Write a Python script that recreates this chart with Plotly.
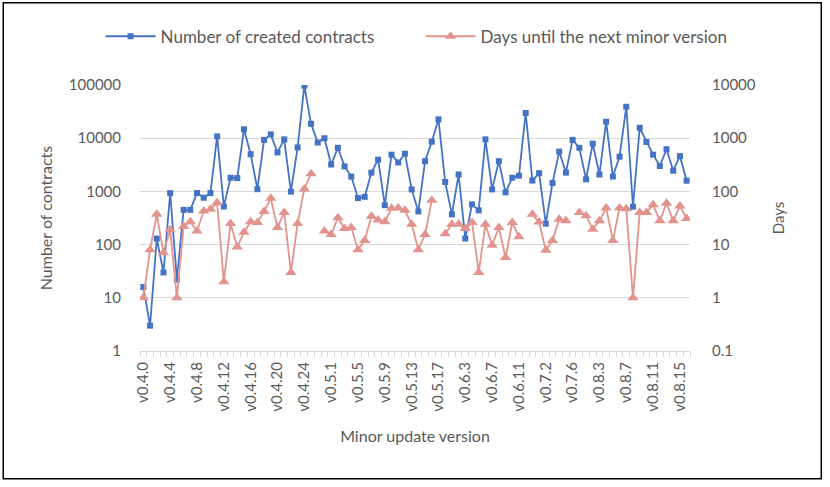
import plotly.graph_objects as go

# Minor versions (Solidity-like), 82 categories
v04 = ["v0.4.%d" % i for i in range(27)]
v05 = ["v0.5.%d" % i for i in range(18)]
v06 = ["v0.6.%d" % i for i in range(13)]
v07 = ["v0.7.%d" % i for i in range(7)]
v08 = ["v0.8.%d" % i for i in range(17)]
versions = v04 + v05 + v06 + v07 + v08

contracts = [
    16, 3, 130, 30, 930, 22, 450, 450, 930, 760,
    930, 10800, 520, 1800, 1780, 14700, 5000, 1100, 9300, 11800,
    5400, 9500, 990, 6700, 97000, 18700, 8300, 10000, 3200, 6600,
    2950, 1900, 750, 790, 2250, 3950, 550, 4900, 3500, 5100,
    1090, 420, 3700, 8600, 22600, 1500, 370, 2080, 130, 570,
    440, 9500, 1090, 3700, 960, 1810, 1970, 29800, 1600, 2200,
    247, 1440, 5600, 2250, 9300, 6600, 1690, 7900, 2080, 20400,
    1900, 4500, 39000, 515, 15700, 8500, 4900, 3000, 6200, 2450,
    4600, 1590,
]

days = [
    1, 8, 37, 7, 19, 1, 22, 27, 18, 43,
    46, 61, 2, 25, 9, 17, 27, 26, 42, 74,
    21, 40, 3, 25, 111, 215, None, 18, 15.5, 32,
    20, 21, 8, 12, 34, 29, 27, 48, 49, 44,
    24, 8, 15.5, 68, None, 16, 24, 24, 20, 26,
    3, 24, 9.7, 21, 5.7, 26, 14, None, 37, 26.5,
    7.8, 12, 30, 28, None, 40, 35, 19.5, 28, 49,
    12, 49, 47, 1, 40, 40, 56, 28, 60, 28,
    53, 31,
]

left_ticks = [1, 10, 100, 1000, 10000, 100000]
left_tick_text = ["1", "10", "100", "1000", "10000", "100000"]
right_ticks = [0.1, 1, 10, 100, 1000, 10000]
right_tick_text = ["0.1", "1", "10", "100", "1000", "10000"]

x_idx = list(range(len(versions)))
label_idx = x_idx[::4]
label_text = versions[::4]

BLUE = "#4472C4"
RED = "#E2938E"
GRAY = "#595959"
GRID = "#D9D9D9"
FONT = "Lato"

fig = go.Figure()
fig.add_trace(go.Scatter(
    x=x_idx, y=contracts, name="Number of created contracts",
    mode="lines+markers",
    line=dict(color=BLUE, width=1.8),
    marker=dict(symbol="square", size=6, color=BLUE),
    yaxis="y",
))
fig.add_trace(go.Scatter(
    x=x_idx, y=days, name="Days until the next minor version",
    mode="lines+markers",
    line=dict(color=RED, width=1.8),
    marker=dict(symbol="triangle-up", size=10, color=RED),
    yaxis="y2", connectgaps=False,
))

L, R, T, B = 139.5, 139.5, 85.3, 135.7
W, H = 830, 487
pw, ph = W - L - R, H - T - B

fig.update_layout(
    width=W, height=H,
    margin=dict(l=L, r=R, t=T, b=B, autoexpand=False),
    paper_bgcolor="white", plot_bgcolor="white",
    font=dict(family=FONT, color=GRAY, size=15),
    showlegend=True,
    legend=dict(orientation="h", xref="paper", yref="paper",
                x=(100 - L) / pw, xanchor="left",
                y=(H - B - 37) / ph, yanchor="middle",
                entrywidth=255, entrywidthmode="pixels", itemwidth=50,
                font=dict(size=17, color=GRAY), tracegroupgap=0),
    xaxis=dict(
        type="linear", range=[-0.5, len(versions) - 0.5],
        tickmode="array", tickvals=label_idx, ticktext=label_text,
        tickangle=-90, ticks="", showgrid=False, zeroline=False,
        showline=True, linecolor=GRID, linewidth=1,
        minor=dict(ticks="outside", tick0=-0.5, dtick=1, ticklen=5,
                   tickcolor=GRID, showgrid=False),
        tickfont=dict(size=15, color=GRAY),
        ticklabelstandoff=4,
        title=dict(text="Minor update version", font=dict(size=16, color=GRAY), standoff=20),
    ),
    yaxis=dict(
        type="log", range=[0, 5], tickmode="array",
        tickvals=left_ticks, ticktext=left_tick_text,
        showgrid=True, gridcolor=GRID, gridwidth=1, zeroline=False,
        showline=False, ticks="", tickfont=dict(size=15, color=GRAY),
        ticklabelstandoff=18,
        title=dict(text="Number of contracts", font=dict(size=16, color=GRAY), standoff=12),
    ),
    yaxis2=dict(
        type="log", range=[-1, 4], overlaying="y", side="right",
        tickmode="array", tickvals=right_ticks, ticktext=right_tick_text,
        showgrid=False, zeroline=False, showline=False, ticks="",
        tickfont=dict(size=15, color=GRAY), ticklabelstandoff=21,
        title=dict(text="Days", font=dict(size=15, color=GRAY), standoff=18),
    ),
    shapes=[dict(
        type="rect", xref="paper", yref="paper",
        x0=(2.5 - L) / pw, x1=(822 - L) / pw,
        y0=(H - B - 479) / ph, y1=(H - B - 3) / ph,
        line=dict(color="black", width=1.5), fillcolor="rgba(0,0,0,0)",
        layer="below",
    )],
)

fig.write_html("out.html", config={"displayModeBar": False},
               post_script="document.body.style.margin='0px';")
